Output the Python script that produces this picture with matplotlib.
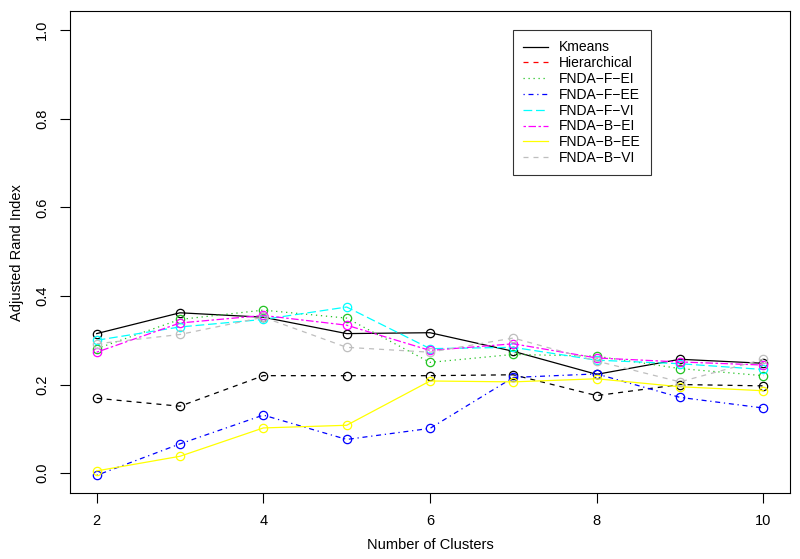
import matplotlib.pyplot as plt
from matplotlib.lines import Line2D

plt.rcParams['font.family'] = ['Liberation Sans', 'DejaVu Sans']

clusters = [2, 3, 4, 5, 6, 7, 8, 9, 10]

kmeans = [0.315, 0.362, 0.352, 0.315, 0.317, 0.275, 0.223, 0.257, 0.248]
hierarchical = [0.169, 0.151, 0.220, 0.220, 0.220, 0.222, 0.175, 0.200, 0.197]
fnda_f_ei = [0.281, 0.347, 0.368, 0.350, 0.250, 0.268, 0.264, 0.236, 0.220]
fnda_f_ee = [-0.005, 0.066, 0.131, 0.076, 0.101, 0.216, 0.224, 0.171, 0.147]
fnda_f_vi = [0.300, 0.330, 0.347, 0.375, 0.281, 0.284, 0.255, 0.247, 0.234]
fnda_b_ei = [0.273, 0.339, 0.356, 0.334, 0.277, 0.292, 0.260, 0.251, 0.244]
fnda_b_ee = [0.005, 0.038, 0.102, 0.108, 0.208, 0.206, 0.213, 0.195, 0.186]
fnda_b_vi = [0.292, 0.313, 0.352, 0.284, 0.273, 0.305, 0.253, 0.206, 0.257]

series = [kmeans, hierarchical, fnda_f_ei, fnda_f_ee, fnda_f_vi, fnda_b_ei, fnda_b_ee, fnda_b_vi]
names = ['Kmeans', 'Hierarchical', 'FNDA\u2212F\u2212EI', 'FNDA\u2212F\u2212EE', 'FNDA\u2212F\u2212VI',
         'FNDA\u2212B\u2212EI', 'FNDA\u2212B\u2212EE', 'FNDA\u2212B\u2212VI']

# R style line types and colours (the plot draws Hierarchical in black, legend shows red)
plot_colors = ['black', 'black', '#22c322', 'blue', 'cyan', 'magenta', 'yellow', '#bebebe']
legend_colors = ['black', 'red', '#22c322', 'blue', 'cyan', 'magenta', 'yellow', '#bebebe']
styles = ['-', (0, (4, 4)), (0, (1, 3)), (0, (1, 3, 4, 3)), (0, (7, 3)),
          (0, (2, 2, 6, 2)), '-', (0, (4, 4))]

fig = plt.figure(figsize=(8, 5.59), dpi=100)
ax = fig.add_axes([0.0875, 0.118, 0.9, 0.862])

for vals, col, ls in zip(series, plot_colors, styles):
    ax.plot(clusters, vals, color=col, linestyle=ls, linewidth=0.9)
    ax.plot(clusters, vals, linestyle='none', marker='o', markersize=6,
            markerfacecolor='none', markeredgecolor=col, markeredgewidth=0.9)

ax.set_xlim(1.68, 10.32)
ax.set_ylim(-0.045, 1.043)
ax.set_xticks([2, 4, 6, 8, 10])
ax.set_yticks([0.0, 0.2, 0.4, 0.6, 0.8, 1.0])
ax.set_yticklabels(['0.0', '0.2', '0.4', '0.6', '0.8', '1.0'], rotation=90, va='center')
ax.tick_params(direction='out', length=7, width=0.8, labelsize=10.5, pad=8)
for sp in ax.spines.values():
    sp.set_linewidth(0.8)

ax.set_xlabel('Number of Clusters', fontsize=10.5, labelpad=7)
ax.set_ylabel('Adjusted Rand Index', fontsize=10.5, labelpad=8)

handles = [Line2D([0], [0], color=c, linestyle=ls, linewidth=0.9)
           for c, ls in zip(legend_colors, styles)]
leg = ax.legend(handles, names, loc='upper left', bbox_to_anchor=(0.615, 0.961),
                fontsize=10, frameon=True, fancybox=False, edgecolor='black',
                handlelength=1.8, labelspacing=0.13, borderpad=0.75, handletextpad=0.8,
                borderaxespad=0)
leg.get_frame().set_linewidth(0.8)

fig.savefig('out.png', dpi=100)
